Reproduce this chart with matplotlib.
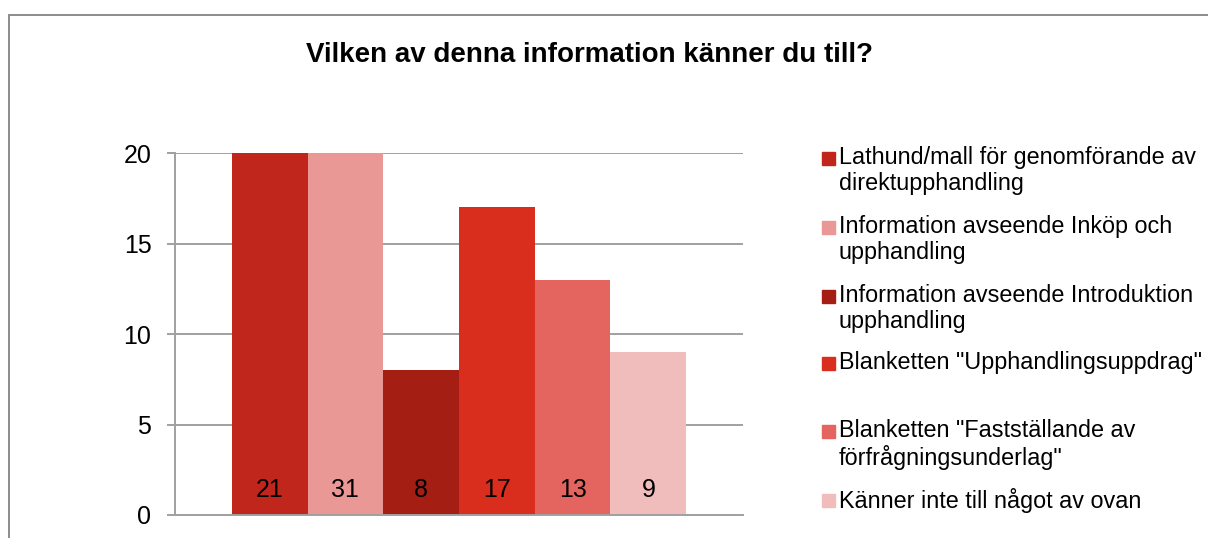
import matplotlib.pyplot as plt
from matplotlib.patches import Rectangle
import numpy as np

plt.rcParams['font.family'] = ['Liberation Sans', 'DejaVu Sans']

title = 'Vilken av denna information känner du till?'
labels = [
    'Lathund/mall för genomförande av\ndirektupphandling',
    'Information avseende Inköp och\nupphandling',
    'Information avseende Introduktion\nupphandling',
    'Blanketten "Upphandlingsuppdrag"',
    'Blanketten "Fastställande av\nförfrågningsunderlag"',
    'Känner inte till något av ovan',
]
values = [21, 31, 8, 17, 13, 9]
colors = ['#C0261B', '#EA9896', '#A41E14', '#D92E1E', '#E4655F', '#F1BDBC']
yticks = [0, 5, 10, 15, 20]

W, H = 1208, 538
fig = plt.figure(figsize=(W / 100, H / 100), dpi=100)
ax = fig.add_axes([175 / W, 1 - 515 / H, (743 - 175) / W, (515 - 153) / H])

# one category, six series side by side
n = len(values)
group = 0.8
w = group / n
xs = -group / 2 + w / 2 + np.arange(n) * w
ax.bar(xs, values, width=w, color=colors, zorder=2)
for x, v in zip(xs, values):
    ax.annotate(str(v), (x, 0), xytext=(0, 25), textcoords='offset pixels',
                ha='center', va='center', fontsize=18, zorder=3)

ax.set_xlim(-0.5, 0.5)
ax.set_ylim(0, 20)
ax.set_yticks(yticks)
ax.set_xticks([])
ax.grid(axis='y', color='#A0A0A0', lw=1.4, zorder=1)
ax.tick_params(axis='y', labelsize=18, length=6, width=1.4, color='#A0A0A0', pad=11)
for s in ['top', 'right']:
    ax.spines[s].set_visible(False)
ax.spines['left'].set_color('#A0A0A0')
ax.spines['left'].set_linewidth(1.4)
ax.spines['bottom'].set_color('#A0A0A0')
ax.spines['bottom'].set_linewidth(1.4)

fig.text(589 / W, 1 - 55 / H, title, ha='center', va='center', fontsize=20, fontweight='bold')

# legend drawn by hand (first-line centres in pixels)
rows = [158, 227, 296, 363, 431, 500]
for lab, c, y in zip(labels, colors, rows):
    fig.add_artist(Rectangle((822 / W, 1 - (y + 6.5) / H), 13 / W, 13 / H,
                             transform=fig.transFigure, color=c))
    fig.text(839 / W, 1 - (y - 12) / H, lab, ha='left', va='top', fontsize=16.8,
             linespacing=1.16)

# outer chart frame
fig.add_artist(Rectangle((9 / W, -0.1), 1.2, 1.1 - 15 / H, transform=fig.transFigure,
                         fill=False, edgecolor='#8C8C8C', lw=1.4))

fig.savefig('out.png', dpi=100)
